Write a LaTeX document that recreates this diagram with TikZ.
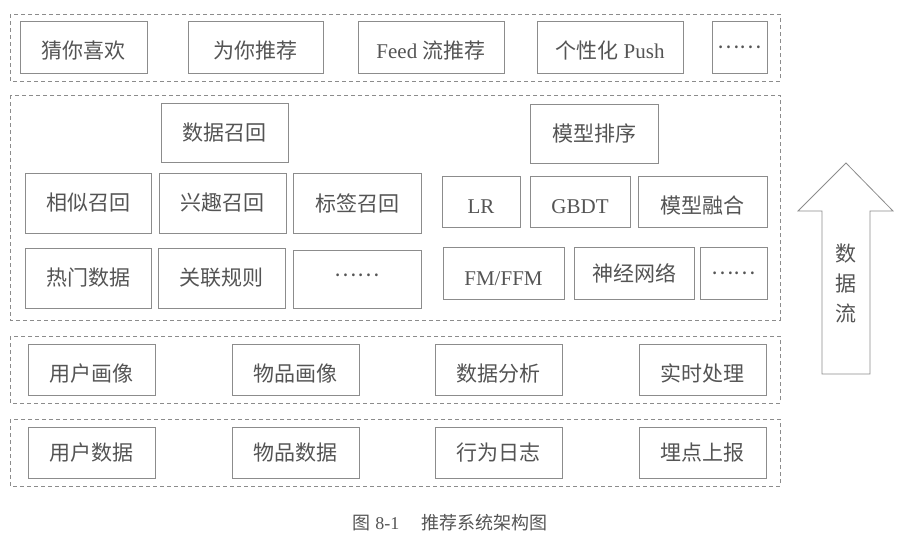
\documentclass[tikz,border=0pt]{standalone}
\usepackage{fontspec}
\setmainfont{Liberation Serif}
\newfontfamily\cjk{Noto Sans CJK SC}
\definecolor{lc}{gray}{0.55}
\definecolor{tc}{gray}{0.33}
\tikzset{
  box/.style={draw=lc, line width=0.8pt, inner sep=0pt, text=tc, font=\fontsize{21}{21}\selectfont},
  layer/.style={draw=lc, line width=0.7pt, dash pattern=on 4pt off 3pt},
  flow/.style={draw=lc, line width=0.8pt, fill=white},
}
\newcommand\mybox[7][0]{\node[box,minimum width={(#5)-(#3)},minimum height={(#6)-(#4)}] (#2) at ({((#3)+(#5))/2},{((#4)+(#6))/2}) {\raisebox{-#1pt}[\height][\depth]{#7}};}
\begin{document}
\begin{tikzpicture}[x=1pt,y=-1pt]
\useasboundingbox (0,0) rectangle (903,541);
% layers
\draw[layer] (10,14) rectangle (780,81);
\draw[layer] (10,95) rectangle (780,320);
\draw[layer] (10,336) rectangle (780,403);
\draw[layer] (10,419) rectangle (780,486);
% top layer
\mybox[4]{a1}{20}{21}{147}{73}{\cjk 猜你喜欢}
\mybox[4]{a2}{188}{21}{323}{73}{\cjk 为你推荐}
\mybox[4]{a3}{358}{21}{504}{73}{Feed {\cjk 流推荐}}
\mybox[4]{a4}{537}{21}{683}{73}{{\cjk 个性化} Push}
\mybox{a5}{712}{21}{767}{73}{\cjk ……}
% recall
\mybox{r0}{161}{103}{288}{162}{\cjk 数据召回}
\mybox{r1}{25}{173}{151}{233}{\cjk 相似召回}
\mybox{r2}{159}{173}{286}{233}{\cjk 兴趣召回}
\mybox{r3}{293}{173}{421}{233}{\cjk 标签召回}
\mybox{r4}{25}{248}{151}{308}{\cjk 热门数据}
\mybox{r5}{158}{248}{285}{308}{\cjk 关联规则}
\mybox[-4]{r6}{293}{250}{421}{308}{\cjk ……}
% ranking
\mybox{m0}{530}{104}{658}{163}{\cjk 模型排序}
\mybox[5]{m1}{442}{176}{520}{227}{LR}
\mybox[5]{m2}{530}{176}{630}{227}{GBDT}
\mybox[4]{m3}{638}{176}{767}{227}{\cjk 模型融合}
\mybox[6]{m4}{443}{247}{564}{299}{FM/FFM}
\mybox{m5}{574}{247}{694}{299}{\cjk 神经网络}
\mybox{m6}{700}{247}{767}{299}{\cjk ……}
% processing
\mybox[4]{p1}{28}{344}{155}{395}{\cjk 用户画像}
\mybox[4]{p2}{232}{344}{359}{395}{\cjk 物品画像}
\mybox[4]{p3}{435}{344}{562}{395}{\cjk 数据分析}
\mybox[4]{p4}{639}{344}{766}{395}{\cjk 实时处理}
% data
\mybox{d1}{28}{427}{155}{478}{\cjk 用户数据}
\mybox{d2}{232}{427}{359}{478}{\cjk 物品数据}
\mybox{d3}{435}{427}{562}{478}{\cjk 行为日志}
\mybox{d4}{639}{427}{766}{478}{\cjk 埋点上报}
% data-flow arrow
\draw[flow] (846,163) -- (893,211) -- (870,211) -- (870,374) -- (822,374) -- (822,211) -- (798,211) -- cycle;
\node[text=tc, align=center, inner sep=0pt, font=\fontsize{21}{30}\selectfont\cjk] (flow) at (846,283) {数\\据\\流};
% caption
\node[text=tc, inner sep=0pt, font=\fontsize{18}{18}\selectfont] (cap) at (450,523) {{\cjk 图} 8-1\hspace{1.2em}{\cjk 推荐系统架构图}};
\end{tikzpicture}
\end{document}
